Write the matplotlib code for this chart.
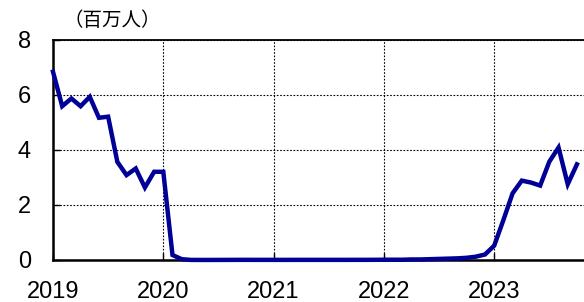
import matplotlib
matplotlib.use("Agg")
import matplotlib.pyplot as plt
import numpy as np

years = [2019, 2020, 2021, 2022, 2023]
y_ticks = [0, 2, 4, 6, 8]
unit_label = "（百万人）"

v2019 = [6.83, 5.58, 5.86, 5.58, 5.92, 5.16, 5.20, 3.56, 3.08, 3.32, 2.63, 3.20]
v2020 = [3.20, 0.18, 0.03, 0.003, 0.002, 0.002, 0.003, 0.004, 0.005, 0.006, 0.005, 0.005]
v2021 = [0.005, 0.004, 0.005, 0.005, 0.005, 0.005, 0.005, 0.005, 0.005, 0.006, 0.006, 0.007]
v2022 = [0.01, 0.01, 0.01, 0.02, 0.02, 0.03, 0.04, 0.05, 0.06, 0.08, 0.12, 0.20]
v2023 = [0.52, 1.45, 2.42, 2.88, 2.81, 2.70, 3.57, 4.08, 2.75, 3.47]

values = v2019 + v2020 + v2021 + v2022 + v2023
x = [years[0] + i / 12 for i in range(len(values))]

plt.rcParams['font.family'] = ['Liberation Sans', 'DejaVu Sans']

fig = plt.figure(figsize=(5.84, 3.02), dpi=100)
ax = fig.add_axes([53/584, 42/302, 1 - 53/584, 220.5/302])

ax.plot(x, values, color='#000096', lw=3.2, solid_joinstyle='miter', clip_on=False, zorder=3)

ax.set_xlim(2019, 2019 + 531/110.3)
ax.set_ylim(0, 8)
ax.set_xticks(years)
ax.set_xticklabels([str(y) for y in years])
ax.set_yticks(y_ticks)

ax.grid(True, color='black', linestyle=(0, (1.5, 1.5)), linewidth=0.8)
ax.set_axisbelow(True)

ax.spines['right'].set_visible(False)
for s in ['left', 'bottom']:
    ax.spines[s].set_linewidth(1.8)
ax.spines['top'].set_linewidth(1.3)

ax.tick_params(axis='both', direction='in', length=5, width=1.0, labelsize=17, colors='black')
ax.tick_params(axis='x', pad=15)
ax.tick_params(axis='y', pad=16)

fig.text(112.5/584, 1 - 21/302, unit_label, ha='center', va='center', fontsize=14,
         family=['Noto Sans CJK JP', 'DejaVu Sans'])

fig.savefig('out.png', dpi=100)
